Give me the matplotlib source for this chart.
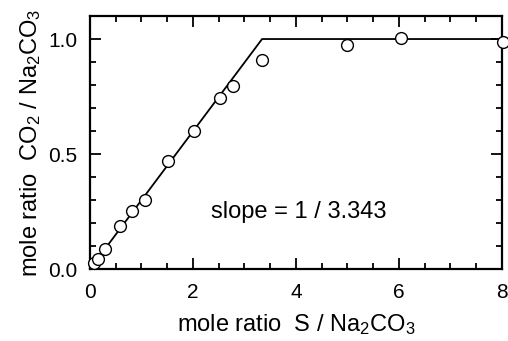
import matplotlib
matplotlib.use("Agg")
import matplotlib.pyplot as plt
import numpy as np
from matplotlib.ticker import MultipleLocator

plt.rcParams['font.family'] = ['Liberation Sans', 'DejaVu Sans']
plt.rcParams['mathtext.fontset'] = 'custom'
plt.rcParams['mathtext.rm'] = 'Liberation Sans'
plt.rcParams['mathtext.it'] = 'Liberation Sans'

# measured points
s_ratio  = [0.08, 0.155, 0.29, 0.58, 0.82, 1.07, 1.51, 2.02, 2.52, 2.78, 3.34, 4.99, 6.04, 8.02]
co2_ratio = [0.026, 0.043, 0.087, 0.187, 0.252, 0.30, 0.47, 0.60, 0.743, 0.796, 0.909, 0.974, 1.004, 0.987]

# fitted line
fit_x = [0.0, 3.343, 8.0]
fit_y = [0.0, 1.0, 1.0]

fig = plt.figure(figsize=(5.08, 3.41), dpi=100)
ax = fig.add_axes([0.177, 0.211, 0.811, 0.742])

ax.plot(fit_x, fit_y, color='black', lw=1.3, zorder=2)
ax.plot(s_ratio, co2_ratio, 'o', ms=8.5, mfc='white', mec='black', mew=1.0,
        clip_on=False, zorder=3)

ax.set_xlim(0, 8)
ax.set_ylim(0, 1.1)
ax.xaxis.set_major_locator(MultipleLocator(2))
ax.xaxis.set_minor_locator(MultipleLocator(0.5))
ax.yaxis.set_major_locator(MultipleLocator(0.5))
ax.yaxis.set_minor_locator(MultipleLocator(0.1))
ax.tick_params(which='both', direction='in', top=True, right=True,
               labelsize=15, width=1.3)
ax.tick_params(axis='x', pad=10)
ax.tick_params(axis='y', pad=9)
ax.tick_params(which='major', length=8)
ax.tick_params(which='minor', length=4)
for sp in ax.spines.values():
    sp.set_linewidth(1.6)

ax.set_xlabel(r'mole ratio  S / Na$_2$CO$_3$', fontsize=17, labelpad=7)
ax.set_ylabel(r'mole ratio  CO$_2$ / Na$_2$CO$_3$', fontsize=17, labelpad=4)

ax.text(2.35, 0.248, 'slope = 1 / 3.343', fontsize=17, ha='left', va='center')

fig.savefig('out.png', dpi=100)
